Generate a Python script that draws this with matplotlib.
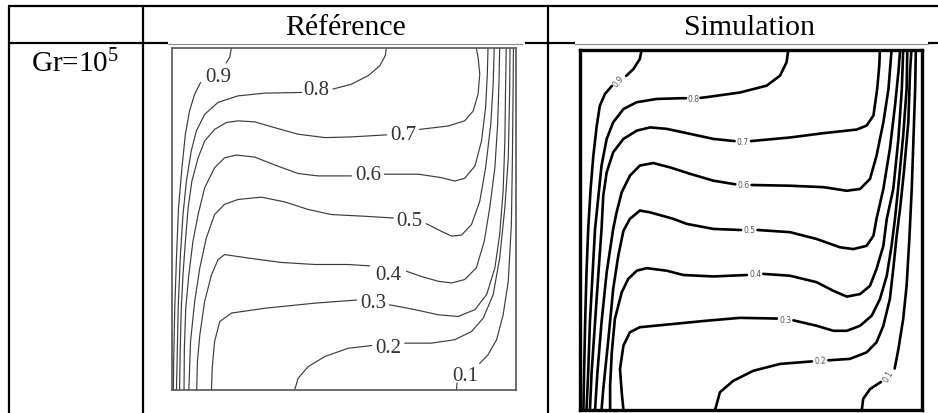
import numpy as np
import matplotlib
matplotlib.use("Agg")
import matplotlib.pyplot as plt

plt.rcParams["mathtext.fontset"] = "custom"
plt.rcParams["mathtext.rm"] = "Liberation Serif"
plt.rcParams["mathtext.default"] = "rm"

# ---------------------------------------------------------------------------
# Isotherm levels and their labels
levels = [0.9, 0.8, 0.7, 0.6, 0.5, 0.4, 0.3, 0.2, 0.1]
level_text = ["0.9", "0.8", "0.7", "0.6", "0.5", "0.4", "0.3", "0.2", "0.1"]

# Column headers and row label
col_titles = ["Référence", "Simulation"]
row_title = r"Gr=10$^5$"

# ---------------------------------------------------------------------------
# Reference isotherms (x, y in cavity units); None marks the label gap
REF_T09 = [(.173, 1.0), (.168, .973), (.158, .957), None, (.083, .899), (.066, .865),
           (.051, .816), (.039, .748), (.029, .650), (.019, .533), (.013, .386),
           (.008, .239), (.005, .093), (.004, 0)]
REF_T08 = [(.624, 1.0), (.621, .978), (.605, .948), (.571, .919), (.522, .894),
           (.469, .880), None, (.377, .870), (.270, .868), (.192, .860), (.134, .841),
           (.095, .806), (.071, .758), (.056, .699), (.042, .611), (.032, .513),
           (.024, .386), (.018, .239), (.015, .093), (.013, 0)]
REF_T07 = [(.886, 1.0), (.891, .973), (.896, .924), (.891, .865), (.877, .816),
           (.852, .787), (.804, .772), (.721, .762), None, (.624, .746), (.522, .740),
           (.445, .738), (.367, .748), (.299, .767), (.241, .784), (.192, .787),
           (.158, .782), (.124, .762), (.095, .728), (.076, .679), (.058, .611),
           (.047, .533), (.039, .435), (.032, .337), (.027, .239), (.024, .122), (.022, 0)]
REF_T06 = [(.920, 1.0), (.918, .924), (.913, .826), (.901, .728), (.882, .655),
           (.852, .619), (.823, .611), (.784, .621), (.717, .631), (.619, .631), None,
           (.522, .626), (.425, .626), (.367, .633), (.299, .658), (.241, .681),
           (.187, .687), (.153, .679), (.124, .650), (.095, .591), (.076, .513),
           (.061, .435), (.049, .337), (.040, .239), (.036, .122), (.035, 0)]
REF_T05 = [(.938, 1.0), (.935, .894), (.928, .777), (.913, .650), (.896, .552),
           (.872, .484), (.843, .453), (.814, .450), (.784, .464), (.741, .486), None,
           (.644, .503), (.561, .508), (.464, .513), (.396, .528), (.328, .550),
           (.260, .564), (.192, .557), (.153, .543), (.124, .513), (.100, .445),
           (.081, .357), (.066, .259), (.054, .142), (.049, 0)]
REF_T04 = [(.954, 1.0), (.952, .904), (.948, .777), (.940, .650), (.925, .533),
           (.909, .435), (.886, .357), (.852, .323), (.814, .313), (.775, .318),
           (.726, .332), (.683, .347), None, (.575, .363), (.513, .367), (.416, .367),
           (.318, .373), (.221, .386), (.153, .396), (.134, .381), (.115, .337),
           (.095, .259), (.081, .161), (.074, .083), (.072, 0)]
REF_T03 = [(.973, 1.0), (.971, .875), (.969, .728), (.964, .582), (.954, .455),
           (.940, .357), (.916, .279), (.882, .235), (.833, .215), (.775, .220),
           (.707, .235), (.634, .249), None, (.537, .263), (.416, .254), (.270, .239),
           (.173, .225), (.139, .200), (.124, .142), (.117, .064), (.115, 0)]
REF_T02 = [(.984, 1.0), (.983, .875), (.979, .679), (.969, .533), (.954, .386),
           (.935, .279), (.906, .210), (.872, .171), (.823, .147), (.755, .137),
           (.678, .137), None, (.581, .130), (.513, .122), (.445, .098), (.396, .068),
           (.367, .034), (.357, 0)]
REF_T01 = [(.994, 1.0), (.993, .875), (.991, .679), (.988, .484), (.979, .318),
           (.964, .220), (.945, .147), (.920, .103), (.896, .078), None,
           (.830, .020), (.828, 0)]

ref_label_x = [.134, .420, .673, .571, .692, .631, .585, .629, .854]
ref_label_y = [.918, .878, .746, .629, .497, .337, .257, .125, .042]

# Simulated isotherms (x, y in cavity units); None marks the label gap
SIM_T09 = [(.180, 1.0), (.175, .975), (.156, .947), (.135, .928), None, (.093, .900),
           (.073, .878), (.058, .845), (.049, .790), (.039, .706), (.031, .614),
           (.024, .503), (.019, .382), (.015, .244), (.012, .105), (.010, 0)]
SIM_T08 = [(.609, 1.0), (.604, .966), (.585, .929), (.546, .901), (.468, .882),
           (.370, .869), (.352, .867), None, (.310, .866), (.292, .866), (.224, .864),
           (.166, .855), (.127, .836), (.097, .799), (.078, .753), (.063, .679),
           (.054, .595), (.044, .503), (.037, .382), (.029, .244), (.024, .105), (.019, 0)]
SIM_T07 = [(.029, 0), (.034, .105), (.044, .244), (.054, .382), (.063, .503),
           (.068, .595), (.078, .660), (.097, .716), (.127, .753), (.166, .776),
           (.205, .785), (.253, .781), (.322, .767), (.390, .753), (.452, .747), None,
           (.500, .747), (.614, .757), (.712, .769), (.809, .779), (.838, .790),
           (.858, .818), (.869, .892), (.875, .956), (.877, 1.0)]
SIM_T06 = [(.044, 0), (.051, .105), (.063, .244), (.078, .382), (.097, .503),
           (.107, .549), (.122, .605), (.146, .651), (.175, .679), (.214, .686),
           (.263, .674), (.322, .656), (.390, .637), (.454, .627), None, (.502, .625),
           (.614, .623), (.712, .619), (.780, .609), (.819, .614), (.848, .642),
           (.867, .706), (.887, .799), (.902, .892), (.911, 1.0)]
SIM_T05 = [(.063, 0), (.068, .058), (.083, .197), (.097, .336), (.112, .429),
           (.127, .498), (.146, .531), (.175, .554), (.205, .549), (.273, .531),
           (.312, .517), (.390, .503), (.471, .500), None, (.519, .500), (.614, .494),
           (.692, .475), (.760, .452), (.799, .447), (.838, .456), (.858, .484),
           (.867, .531), (.887, .614), (.906, .725), (.921, .845), (.931, .938), (.936, 1.0)]
SIM_T04 = [(.088, 0), (.088, .068), (.093, .160), (.102, .253), (.122, .327),
           (.141, .364), (.166, .387), (.195, .394), (.253, .387), (.302, .375),
           (.390, .371), (.488, .375), None, (.536, .378), (.614, .373), (.692, .355),
           (.741, .331), (.780, .315), (.819, .322), (.848, .345), (.867, .392),
           (.887, .456), (.897, .531), (.916, .614), (.931, .753), (.941, .892), (.945, 1.0)]
SIM_T03 = [(.127, 0), (.122, .049), (.117, .114), (.127, .179), (.146, .216),
           (.175, .230), (.273, .239), (.370, .248), (.468, .256), (.576, .254), None,
           (.624, .249), (.692, .234), (.741, .220), (.780, .220), (.819, .234),
           (.853, .262), (.877, .308), (.897, .373), (.911, .456), (.921, .531),
           (.931, .623), (.945, .762), (.955, .892), (.957, 1.0)]
SIM_T02 = [(.395, 0), (.409, .049), (.448, .081), (.507, .109), (.585, .128),
           (.678, .135), None, (.726, .138), (.789, .142), (.838, .160), (.867, .188),
           (.887, .234), (.906, .308), (.916, .392), (.926, .484), (.936, .560),
           (.947, .660), (.960, .799), (.965, .938), (.969, 1.0)]
SIM_T01 = [(.824, 0), (.828, .031), (.848, .058), (.880, .078), None, (.920, .115),
           (.931, .169), (.945, .253), (.955, .345), (.963, .475), (.970, .614),
           (.975, .753), (.980, .892), (.982, 1.0)]

sim_label_x = [.112, .331, .476, .478, .495, .512, .600, .702, .902]
sim_label_y = [.915, .866, .745, .626, .500, .378, .251, .137, .095]
sim_label_rot = [50, 0, 0, 0, 0, 0, 0, 3, 60]

ref_curves = [REF_T09, REF_T08, REF_T07, REF_T06, REF_T05,
              REF_T04, REF_T03, REF_T02, REF_T01]
sim_curves = [SIM_T09, SIM_T08, SIM_T07, SIM_T06, SIM_T05,
              SIM_T04, SIM_T03, SIM_T02, SIM_T01]


def as_xy(points):
    arr = np.array([(np.nan, np.nan) if p is None else p for p in points], float)
    return arr[:, 0], arr[:, 1]


W, H = 938, 414
fig = plt.figure(figsize=(W / 100, H / 100), dpi=100)
fig.patch.set_facecolor("white")

# Table grid, drawn in pixel coordinates
tab = fig.add_axes([0, 0, 1, 1])
tab.set_xlim(0, W)
tab.set_ylim(H, 0)
tab.axis("off")
blk = dict(color="black", lw=1.6, solid_capstyle="butt")
tab.plot([8, W], [7, 7], **blk)
tab.plot([8.5, 8.5], [7, H], **blk)
tab.plot([143, 143], [7, H], **blk)
tab.plot([548, 548], [7, H], **blk)
tab.plot([8, 168], [44, 44], **blk)
tab.plot([525, 575], [44, 44], **blk)
tab.plot([928, W], [44, 44], **blk)
tab.plot([168, 522], [44.5, 44.5], color="#8a8a8a", lw=0.8)
tab.plot([575, 928], [44.5, 44.5], color="#8a8a8a", lw=0.8)

serif = "Liberation Serif"
tab.text(345, 35, col_titles[0], ha="center", va="baseline",
         fontsize=21.5, family=serif)
tab.text(749, 35, col_titles[1], ha="center", va="baseline",
         fontsize=21.5, family=serif)
tab.text(75, 72, row_title, ha="center", va="baseline",
         fontsize=21, family=serif)

# Left panel: reference isotherms
ax_r = fig.add_axes([172 / W, 1 - 391 / H, 343.5 / W, 342 / H])
ax_r.set_xlim(0, 1)
ax_r.set_ylim(0, 1)
ax_r.set_xticks([])
ax_r.set_yticks([])
for s in ax_r.spines.values():
    s.set_color("#555555")
    s.set_linewidth(1.2)
for pts in ref_curves:
    x, y = as_xy(pts)
    ax_r.plot(x, y, color="#3c3c3c", lw=0.85, solid_joinstyle="round")
for t, lx, ly in zip(level_text, ref_label_x, ref_label_y):
    ax_r.text(lx, ly, t, ha="center", va="center", fontsize=15,
              family=serif, color="#333333")

# Right panel: simulated isotherms
ax_s = fig.add_axes([580 / W, 1 - 411 / H, 342 / W, 360 / H])
ax_s.set_xlim(0, 1)
ax_s.set_ylim(0, 1)
ax_s.set_xticks([])
ax_s.set_yticks([])
for s in ax_s.spines.values():
    s.set_color("black")
    s.set_linewidth(2.4)
for pts in sim_curves:
    x, y = as_xy(pts)
    ax_s.plot(x, y, color="black", lw=1.9, solid_joinstyle="round",
              solid_capstyle="round")
for t, lx, ly, rot in zip(level_text, sim_label_x, sim_label_y, sim_label_rot):
    ax_s.text(lx, ly, t, ha="center", va="center", fontsize=5.5,
              color="#555555", rotation=rot, rotation_mode="anchor")

fig.savefig("out.png", dpi=100, facecolor="white")
